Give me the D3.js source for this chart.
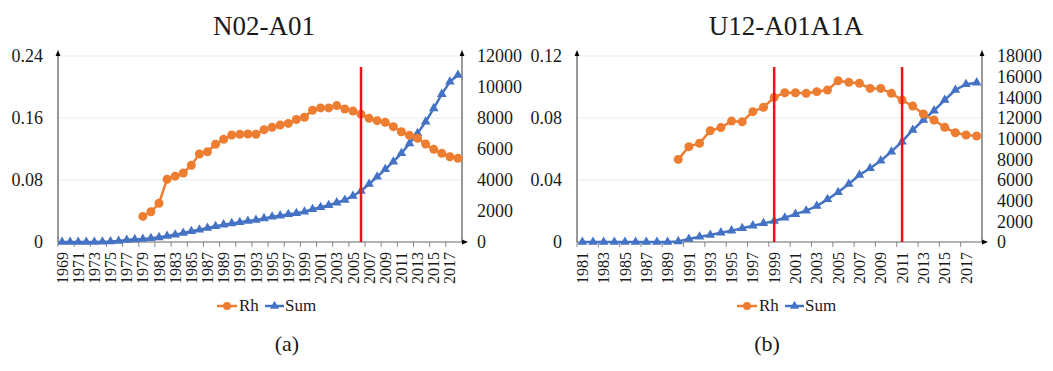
<!DOCTYPE html>
<html>
	<head>
		<meta charset="utf-8">
		<title>Rh and Sum</title>
		<script src="https://d3js.org/d3.v7.min.js"></script>
		<style>
			body { margin: 0; background: #fff; }
			svg text { font-family: 'Liberation Serif', 'DejaVu Serif', serif; fill: #1a1a1a; }
		</style>
	</head>
	<body>
		<svg id="chart" width="1053" height="371" font-family="Liberation Serif"></svg>

		<script>

			// ---- data ----
			var yearsA = [1969,1970,1971,1972,1973,1974,1975,1976,1977,1978,1979,1980,1981,1982,1983,1984,1985,1986,1987,1988,
				1989,1990,1991,1992,1993,1994,1995,1996,1997,1998,1999,2000,2001,2002,2003,2004,2005,2006,2007,2008,
				2009,2010,2011,2012,2013,2014,2015,2016,2017,2018];
			var rhA = [null,null,null,null,null,null,null,null,null,null,
				0.033,0.039,0.050,0.081,0.085,0.089,0.099,0.1135,0.1165,0.126,
				0.1325,0.138,0.139,0.1394,0.139,0.145,0.148,0.151,0.153,0.158,
				0.161,0.170,0.173,0.173,0.176,0.1716,0.169,0.165,0.1596,0.1566,
				0.1544,0.1488,0.1423,0.1376,0.1338,0.1265,0.1196,0.1144,0.110,0.108];
			var sumA = [0,0,0,0,0,10,30,65,130,170,
				195,240,300,390,470,580,690,795,900,1010,
				1120,1200,1270,1355,1420,1525,1630,1700,1785,1850,
				1955,2110,2240,2370,2540,2710,2970,3290,3740,4210,
				4690,5180,5720,6360,7010,7760,8620,9540,10340,10770];
			var markA = [2006];

			var yearsB = [1981,1982,1983,1984,1985,1986,1987,1988,1989,1990,1991,1992,1993,1994,1995,1996,1997,1998,1999,
				2000,2001,2002,2003,2004,2005,2006,2007,2008,2009,2010,2011,2012,2013,2014,2015,2016,2017,2018];
			var rhB = [null,null,null,null,null,null,null,null,null,
				0.0533,0.0615,0.0637,0.0718,0.0738,0.078,0.0776,0.0841,0.0869,0.0933,
				0.0963,0.0963,0.0959,0.097,0.098,0.104,0.103,0.1024,0.0991,0.0991,
				0.0959,0.0916,0.0877,0.0826,0.0787,0.074,0.0705,0.069,0.0684];
			var sumB = [0,0,0,0,0,0,0,0,0,
				60,290,515,680,905,1100,1325,1580,1805,2030,
				2350,2700,3030,3480,4130,4810,5610,6480,7130,7870,
				8740,9710,10840,11800,12710,13740,14710,15260,15420];
			var markB = [1999, 2011];

			var ticksA = [0, 0.08, 0.16, 0.24];
			var ticksA2 = [0, 2000, 4000, 6000, 8000, 10000, 12000];
			var ticksB = [0, 0.04, 0.08, 0.12];
			var ticksB2 = [0, 2000, 4000, 6000, 8000, 10000, 12000, 14000, 16000, 18000];

			var orange = "#ED7D31", blue = "#4472C4", red = "#E8141B";
			var serif = "'Liberation Serif', 'DejaVu Serif', serif";

			var svg = d3.select("#chart");

			svg.append("defs").append("marker")
				.attr("id", "arrow")
				.attr("viewBox", "0 0 10 10")
				.attr("refX", 5).attr("refY", 5)
				.attr("markerWidth", 6).attr("markerHeight", 6)
				.attr("orient", "auto")
				.append("path")
				.attr("d", "M0,1 L10,5 L0,9 Z")
				.attr("fill", "#000");

			drawChart({
				x0: 58, x1: 462, top: 56, bottom: 242,
				title: "N02-A01", titleX: 264, caption: "(a)", capX: 287, legX: 217,
				years: yearsA, rh: rhA, sum: sumA, marks: markA,
				rhMax: 0.24, sumMax: 12000, ticks: ticksA, ticks2: ticksA2,
				fmt: d3.format(".2f")
			});

			drawChart({
				x0: 577, x1: 982, top: 56, bottom: 242,
				title: "U12-A01A1A", titleX: 786, caption: "(b)", capX: 767, legX: 737,
				years: yearsB, rh: rhB, sum: sumB, marks: markB,
				rhMax: 0.12, sumMax: 18000, ticks: ticksB, ticks2: ticksB2,
				fmt: d3.format(".2f")
			});

			function drawChart(c) {
				var g = svg.append("g").style("font-family", serif);

				var x = d3.scaleBand().domain(c.years).range([c.x0, c.x1]);
				var y = d3.scaleLinear().domain([0, c.rhMax]).range([c.bottom, c.top]);
				var y2 = d3.scaleLinear().domain([0, c.sumMax]).range([c.bottom, c.top]);
				var cx = function(yr) { return x(yr) + x.bandwidth() / 2; };

				// gridlines
				g.selectAll(".grid").data(c.ticks.filter(d => d > 0)).enter()
					.append("line")
					.attr("x1", c.x0).attr("x2", c.x1)
					.attr("y1", d => y(d)).attr("y2", d => y(d))
					.attr("stroke", "#ececec").attr("stroke-width", 1);

				// left labels
				g.selectAll(".yl").data(c.ticks).enter()
					.append("text")
					.attr("x", c.x0 - 15).attr("y", d => y(d))
					.attr("dy", "0.35em")
					.attr("text-anchor", "end")
					.style("font-size", "18px")
					.text(d => d === 0 ? "0" : c.fmt(d));

				// right labels
				g.selectAll(".yr").data(c.ticks2).enter()
					.append("text")
					.attr("x", c.x1 + 15).attr("y", d => y2(d))
					.attr("dy", "0.35em")
					.style("font-size", "18px")
					.text(d => d);

				// x ticks every two years
				var tickYears = c.years.filter((d, i) => i % 2 === 0);
				g.selectAll(".xt").data(tickYears).enter()
					.append("line")
					.attr("x1", d => x(d)).attr("x2", d => x(d))
					.attr("y1", c.bottom).attr("y2", c.bottom + 5)
					.attr("stroke", "#888");

				g.selectAll(".xl").data(tickYears).enter()
					.append("text")
					.attr("transform", d => "translate(" + cx(d) + "," + (c.bottom + 10) + ") rotate(-90)")
					.attr("dy", "0.35em")
					.attr("text-anchor", "end")
					.style("font-size", "16px")
					.text(d => d);

				// axes
				g.append("line")
					.attr("x1", c.x0).attr("x2", c.x1 + 3)
					.attr("y1", c.bottom).attr("y2", c.bottom)
					.attr("stroke", "#666").attr("marker-end", "url(#arrow)");
				g.append("line")
					.attr("x1", c.x0).attr("x2", c.x0)
					.attr("y1", c.bottom).attr("y2", c.top - 3)
					.attr("stroke", "#333").attr("marker-end", "url(#arrow)");
				g.append("line")
					.attr("x1", c.x1).attr("x2", c.x1)
					.attr("y1", c.bottom).attr("y2", c.top - 3)
					.attr("stroke", "#333").attr("marker-end", "url(#arrow)");

				// Sum series
				var sumPts = c.years.map((yr, i) => ({ yr: yr, v: c.sum[i] }));
				g.append("path")
					.attr("d", d3.line().x(d => cx(d.yr)).y(d => y2(d.v))(sumPts))
					.attr("fill", "none").attr("stroke", blue).attr("stroke-width", 2.5);
				g.selectAll(".sm").data(sumPts).enter()
					.append("path")
					.attr("d", d3.symbol().type(d3.symbolTriangle).size(40))
					.attr("transform", d => "translate(" + cx(d.yr) + "," + y2(d.v) + ")")
					.attr("fill", blue);

				// Rh series
				var rhPts = c.years.map((yr, i) => ({ yr: yr, v: c.rh[i] })).filter(d => d.v != null);
				g.append("path")
					.attr("d", d3.line().x(d => cx(d.yr)).y(d => y(d.v))(rhPts))
					.attr("fill", "none").attr("stroke", orange).attr("stroke-width", 2.5);
				g.selectAll(".rm").data(rhPts).enter()
					.append("circle")
					.attr("cx", d => cx(d.yr)).attr("cy", d => y(d.v))
					.attr("r", 4.5)
					.attr("fill", orange);

				// red marker lines
				g.selectAll(".mk").data(c.marks).enter()
					.append("line")
					.attr("x1", d => cx(d)).attr("x2", d => cx(d))
					.attr("y1", c.top + 11).attr("y2", c.bottom)
					.attr("stroke", red).attr("stroke-width", 2.5);

				// title and caption
				g.append("text")
					.attr("x", c.titleX).attr("y", 35)
					.attr("text-anchor", "middle")
					.style("font-size", "27px")
					.text(c.title);
				g.append("text")
					.attr("x", c.capX).attr("y", 351)
					.attr("text-anchor", "middle")
					.style("font-size", "22px")
					.text(c.caption);

				// legend
				var lg = g.append("g").attr("transform", "translate(" + c.legX + ",306)");
				lg.append("line").attr("x1", 0).attr("x2", 20).attr("stroke", orange).attr("stroke-width", 2.5);
				lg.append("circle").attr("cx", 10).attr("r", 4).attr("fill", orange);
				lg.append("text").attr("x", 22).attr("y", 5).style("font-size", "17px").text("Rh");
				lg.append("line").attr("x1", 48).attr("x2", 67).attr("stroke", blue).attr("stroke-width", 2.5);
				lg.append("path").attr("d", d3.symbol().type(d3.symbolTriangle).size(36))
					.attr("transform", "translate(57.5,0)").attr("fill", blue);
				lg.append("text").attr("x", 68).attr("y", 5).style("font-size", "17px").text("Sum");
			}
		</script>
	</body>
</html>
